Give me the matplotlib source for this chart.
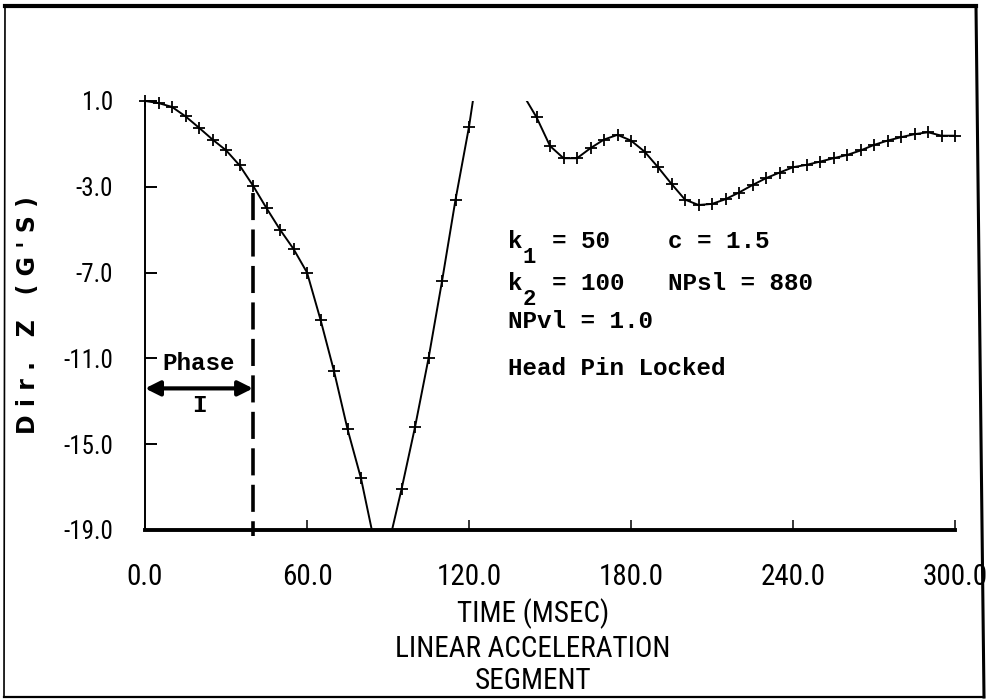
import numpy as np
import matplotlib
matplotlib.use("Agg")
import matplotlib.pyplot as plt
import matplotlib.font_manager as fm
from matplotlib.lines import Line2D

# time (msec) and head acceleration in z (G's)
time_ms = np.array([
    0, 5, 10, 15, 20, 25, 30, 35, 40, 45, 50, 55, 60, 65, 70, 75, 80, 85, 90, 95,
    100, 105, 110, 115, 120, 125, 130, 135, 140, 145, 150, 155, 160, 165, 170, 175,
    180, 185, 190, 195, 200, 205, 210, 215, 220, 225, 230, 235, 240, 245, 250, 255,
    260, 265, 270, 275, 280, 285, 290, 295, 300])
accel_z = np.array([
    1.0, 0.9, 0.72, 0.28, -0.25, -0.8, -1.3, -2.0, -2.95, -4.0, -5.0, -5.9, -7.0,
    -9.2, -11.6, -14.3, -16.6, -19.6, -19.8, -17.1, -14.2, -11.0, -7.4, -3.6, -0.2,
    4.0, 6.0, 4.5, 1.3, 0.24, -1.1, -1.67, -1.67, -1.2, -0.8, -0.58, -0.85, -1.36,
    -2.09, -2.87, -3.6, -3.85, -3.8, -3.58, -3.27, -2.92, -2.6, -2.34, -2.09, -1.98,
    -1.83, -1.67, -1.52, -1.31, -1.05, -0.85, -0.69, -0.55, -0.46, -0.62, -0.62])

x_ticks = [0, 60, 120, 180, 240, 300]
y_ticks = [1, -3, -7, -11, -15, -19]
phase_end = 40  # end of phase I (msec)

# spring constants (k with subscript) and the rest of each parameter line
k_subs = ["1", "2"]
k_rest = ["= 50    c = 1.5", "= 100   NPsl = 880"]
other_lines = ["NPvl = 1.0", "Head Pin Locked"]

# narrow plotter-like font for the axis text
names = {f.name for f in fm.fontManager.ttflist}
narrow = next((n for n in ["Liberation Sans Narrow", "Roboto Condensed", "DejaVu Sans"]
               if n in names), "DejaVu Sans")
mono = "Liberation Mono"

fig = plt.figure(figsize=(9.88, 7.0), dpi=100)
ax = fig.add_axes([0.1468, 0.2429, 0.8198, 0.6129])

ax.plot(time_ms, accel_z, color="black", lw=1.4)
inside = (accel_z >= -19) & (accel_z <= 1)
ax.plot(time_ms[inside], accel_z[inside], "+", color="black", ms=9, mew=1.3,
        clip_on=False)

ax.set_xlim(0, 300)
ax.set_ylim(-19, 1)
for s in ["top", "right"]:
    ax.spines[s].set_visible(False)
ax.spines["left"].set_linewidth(1.4)
ax.spines["bottom"].set_linewidth(2.8)

ax.set_xticks(x_ticks)
ax.set_xticklabels([f"{v:.1f}" for v in x_ticks], fontfamily=narrow, fontsize=21)
ax.set_yticks(y_ticks)
ax.set_yticklabels([f"{v:.1f}" for v in y_ticks], fontfamily=narrow, fontsize=18)
ax.tick_params(axis="x", direction="in", length=7.5, width=1.1, pad=24)
ax.tick_params(axis="y", direction="in", length=8.5, width=1.4, pad=23)

# letter-spaced axis title, like the plotter lettering
ax.set_ylabel("D i r .   Z   ( G ' S )", fontfamily="DejaVu Sans",
              fontweight="bold", fontsize=17)
ax.yaxis.set_label_coords(-0.13, 0.5)

for txt, yy in zip(["TIME (MSEC)", "LINEAR ACCELERATION", "SEGMENT"],
                   [0.1229, 0.0729, 0.0271]):
    fig.text(0.5395, yy, txt, ha="center", va="center", fontfamily=narrow,
             fontsize=21)

# phase I marker
ax.plot([phase_end, phase_end], [-3.3, -19.3], color="black", lw=2.6,
        ls=(0, (7.5, 2.6)), clip_on=False)
ax.annotate("", xy=(0, -12.4), xytext=(phase_end, -12.4),
            arrowprops=dict(arrowstyle="<|-|>", lw=3, mutation_scale=22,
                            color="black", shrinkA=0, shrinkB=0))
ax.text(phase_end / 2, -11.55, "Phase", ha="center", va="baseline",
        fontfamily=mono, fontweight="bold", fontsize=17.5)
ax.text(phase_end / 2, -13.5, "I", ha="center", va="baseline",
        fontfamily=mono, fontweight="bold", fontsize=17.5)

# model parameters, monospaced: one column = 0.6 em
fs = 17.5
col = 0.6 * fs
x0 = 0.448
txt_kw = dict(ha="left", va="baseline", fontfamily=mono, fontweight="bold")
for sub, rest, yy in zip(k_subs, k_rest, [0.657, 0.559]):
    ax.text(x0, yy, "k", transform=ax.transAxes, fontsize=fs, **txt_kw)
    ax.annotate(sub, xy=(x0, yy), xycoords="axes fraction",
                xytext=(col, -10.5), textcoords="offset points",
                fontsize=fs - 1.5, **txt_kw)
    ax.annotate(rest, xy=(x0, yy), xycoords="axes fraction",
                xytext=(3 * col, 0), textcoords="offset points",
                fontsize=fs, **txt_kw)
for txt, yy in zip(other_lines, [0.471, 0.361]):
    ax.text(x0, yy, txt, transform=ax.transAxes, fontsize=fs, **txt_kw)

# outer frame
fx = [5 / 988, 976 / 988, 984 / 988, 4 / 988, 5 / 988]
fy = [1 - 6 / 700, 1 - 6 / 700, 1 - 697 / 700, 1 - 697 / 700, 1 - 6 / 700]
for i, w in enumerate([3.0, 2.2, 1.6, 1.2]):
    fig.add_artist(Line2D(fx[i:i + 2], fy[i:i + 2], color="black", lw=w))

fig.savefig("out.png", dpi=100)
